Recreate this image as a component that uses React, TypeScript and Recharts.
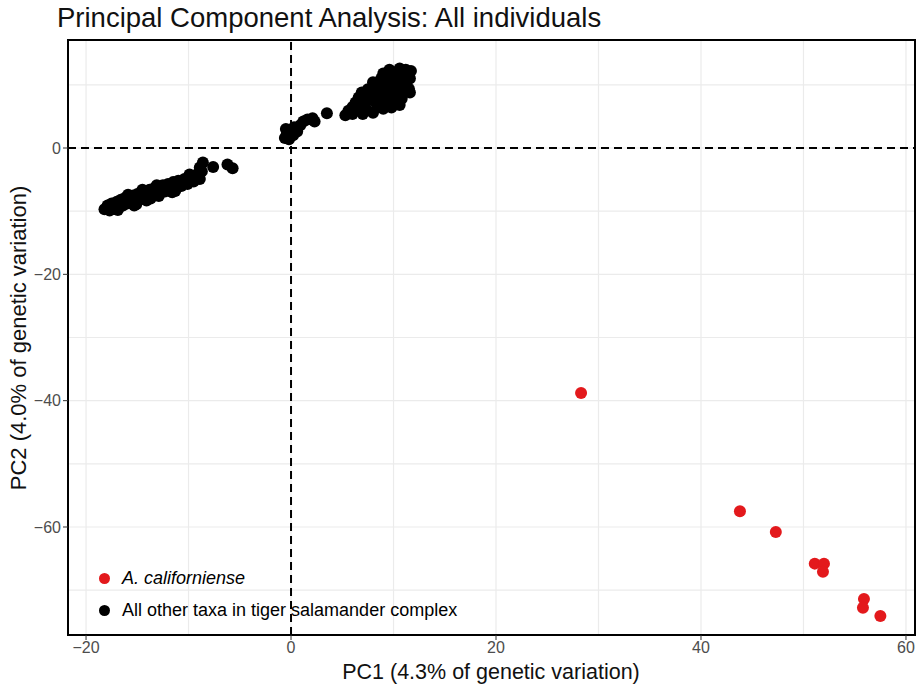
import {
  ScatterChart,
  Scatter,
  XAxis,
  YAxis,
  CartesianGrid,
  ReferenceLine,
  ReferenceArea,
} from 'recharts';

// PC1 / PC2 scores
const californiense = [
  { x: 28.3, y: -38.8 },
  { x: 43.8, y: -57.5 },
  { x: 47.3, y: -60.8 },
  { x: 51.1, y: -65.8 },
  { x: 52.0, y: -65.8 },
  { x: 51.9, y: -67.1 },
  { x: 55.9, y: -71.4 },
  { x: 55.8, y: -72.8 },
  { x: 57.5, y: -74.1 },
];

const otherTaxa = [
  // lower-left band
  { x: -18.2, y: -9.7 }, { x: -17.9, y: -9.1 }, { x: -17.7, y: -9.9 }, { x: -17.5, y: -8.8 },
  { x: -17.3, y: -9.6 }, { x: -17.0, y: -8.5 }, { x: -16.8, y: -9.4 }, { x: -16.6, y: -8.2 },
  { x: -16.4, y: -9.1 }, { x: -16.2, y: -7.9 }, { x: -16.0, y: -8.8 }, { x: -15.8, y: -7.7 },
  { x: -15.6, y: -8.6 }, { x: -15.4, y: -7.5 }, { x: -15.2, y: -8.4 }, { x: -15.0, y: -7.3 },
  { x: -14.8, y: -8.2 }, { x: -14.6, y: -7.0 }, { x: -14.4, y: -7.9 }, { x: -14.2, y: -6.8 },
  { x: -14.0, y: -7.7 }, { x: -13.8, y: -6.6 }, { x: -13.6, y: -7.5 }, { x: -13.4, y: -6.4 },
  { x: -13.2, y: -7.3 }, { x: -13.0, y: -6.2 }, { x: -12.8, y: -7.1 }, { x: -12.5, y: -5.9 },
  { x: -12.3, y: -6.9 }, { x: -12.0, y: -5.7 }, { x: -11.8, y: -6.7 }, { x: -11.5, y: -5.4 },
  { x: -11.3, y: -6.8 }, { x: -11.0, y: -5.2 }, { x: -10.7, y: -6.0 }, { x: -10.4, y: -4.9 },
  { x: -10.1, y: -5.7 }, { x: -9.8, y: -4.6 }, { x: -9.5, y: -5.3 }, { x: -9.2, y: -4.2 },
  { x: -8.9, y: -4.9 }, { x: -8.7, y: -3.7 }, { x: -8.9, y: -3.1 }, { x: -8.6, y: -2.3 },
  { x: -7.6, y: -3.0 }, { x: -6.2, y: -2.6 }, { x: -5.7, y: -3.2 }, { x: -16.9, y: -9.8 },
  { x: -14.1, y: -8.3 }, { x: -15.1, y: -8.9 }, { x: -12.9, y: -7.6 }, { x: -17.6, y: -9.3 },
  { x: -16.5, y: -8.7 }, { x: -13.9, y: -7.1 }, { x: -12.1, y: -6.3 }, { x: -10.3, y: -5.3 },
  { x: -15.9, y: -7.4 }, { x: -14.5, y: -6.6 }, { x: -13.1, y: -5.9 }, { x: -15.3, y: -9.1 },
  { x: -13.7, y: -8.0 }, { x: -11.6, y: -7.0 }, { x: -9.9, y: -4.2 },
  // near origin
  { x: -0.6, y: 1.6 }, { x: -0.4, y: 2.3 }, { x: -0.2, y: 1.4 }, { x: 0.0, y: 2.8 },
  { x: 0.2, y: 2.0 }, { x: -0.5, y: 3.0 }, { x: 0.3, y: 3.3 }, { x: 0.6, y: 2.6 },
  { x: 0.9, y: 3.6 }, { x: 1.2, y: 4.2 }, { x: 1.6, y: 4.5 }, { x: 2.1, y: 4.7 },
  { x: 2.3, y: 4.2 }, { x: 3.5, y: 5.5 },
  // upper-right cluster
  { x: 5.3, y: 5.2 }, { x: 5.6, y: 5.9 }, { x: 6.0, y: 6.5 }, { x: 6.3, y: 7.2 },
  { x: 6.6, y: 8.0 }, { x: 6.9, y: 8.8 }, { x: 7.0, y: 5.4 }, { x: 7.4, y: 6.0 },
  { x: 7.2, y: 7.0 }, { x: 7.6, y: 7.6 }, { x: 7.8, y: 8.6 }, { x: 7.5, y: 9.3 },
  { x: 8.0, y: 5.6 }, { x: 8.4, y: 6.4 }, { x: 8.2, y: 7.4 }, { x: 8.6, y: 8.2 },
  { x: 8.4, y: 9.4 }, { x: 8.8, y: 10.0 }, { x: 9.0, y: 6.2 }, { x: 9.2, y: 7.0 },
  { x: 9.0, y: 8.0 }, { x: 9.4, y: 8.8 }, { x: 9.2, y: 9.8 }, { x: 9.6, y: 10.6 },
  { x: 9.4, y: 11.4 }, { x: 9.6, y: 12.4 }, { x: 9.8, y: 6.4 }, { x: 10.0, y: 7.4 },
  { x: 10.2, y: 8.4 }, { x: 10.0, y: 9.4 }, { x: 10.4, y: 10.2 }, { x: 10.2, y: 11.0 },
  { x: 10.4, y: 12.0 }, { x: 10.6, y: 12.6 }, { x: 10.6, y: 6.8 }, { x: 10.8, y: 7.8 },
  { x: 11.0, y: 8.8 }, { x: 10.8, y: 9.8 }, { x: 11.2, y: 10.6 }, { x: 11.0, y: 11.4 },
  { x: 11.2, y: 12.4 }, { x: 11.7, y: 12.2 }, { x: 11.6, y: 11.0 }, { x: 11.5, y: 9.4 },
  { x: 11.6, y: 8.8 }, { x: 8.0, y: 10.4 }, { x: 8.8, y: 11.0 }, { x: 9.0, y: 11.8 },
  { x: 6.4, y: 6.4 }, { x: 6.0, y: 5.4 },
];

const xTicks = [-20, 0, 20, 40, 60];
const yTicks = [-60, -40, -20, 0];
const xGrid = [-20, -10, 0, 10, 20, 30, 40, 50, 60];
const yGrid = [10, 0, -10, -20, -30, -40, -50, -60, -70];

const X_DOMAIN: [number, number] = [-21.76, 60.88];
const Y_DOMAIN: [number, number] = [-77.1, 17.1];

const RED = '#e3191c';
const FONT = '"Liberation Sans", Arial, sans-serif';
const fmt = (v: number) => (v < 0 ? '\u2212' + Math.abs(v) : String(v));

const dot = (color: string) => (p: any) => (
  <circle cx={p.cx} cy={p.cy} r={6} fill={color} />
);

const LegendBox = () => (
  <div style={{ position: 'absolute', left: 99, top: 562, fontFamily: FONT, fontSize: 18, color: '#000' }}>
    <div style={{ display: 'flex', alignItems: 'center', height: 32 }}>
      <span style={{ width: 11, height: 11, borderRadius: '50%', background: RED, marginRight: 12 }} />
      <i>A. californiense</i>
    </div>
    <div style={{ display: 'flex', alignItems: 'center', height: 32 }}>
      <span style={{ width: 11, height: 11, borderRadius: '50%', background: '#000', marginRight: 12 }} />
      All other taxa in tiger salamander complex
    </div>
  </div>
);

export default function App() {
  return (
    <div style={{ position: 'absolute', left: 0, top: 0, width: 918, height: 697, background: '#fff' }}>
      <div style={{ position: 'absolute', left: 57, top: 2, fontSize: 27.5, fontFamily: FONT, color: '#111' }}>
        Principal Component Analysis: All individuals
      </div>
      <ScatterChart width={918} height={697} margin={{ top: 40, right: 3, bottom: 0, left: 0 }}>
        <CartesianGrid stroke="#ebebeb" strokeWidth={1.2} verticalValues={xGrid} horizontalValues={yGrid} />
        <XAxis
          type="number"
          dataKey="x"
          domain={X_DOMAIN}
          ticks={xTicks}
          allowDataOverflow
          height={62}
          axisLine={false}
          tickLine={{ stroke: '#333' }}
          tickSize={5}
          tickFormatter={fmt}
          tick={{ fill: '#4d4d4d', fontSize: 16, fontFamily: FONT }}
        />
        <YAxis
          type="number"
          dataKey="y"
          domain={Y_DOMAIN}
          ticks={yTicks}
          allowDataOverflow
          width={68}
          axisLine={false}
          tickLine={{ stroke: '#333' }}
          tickSize={5}
          tickFormatter={fmt}
          tick={{ fill: '#4d4d4d', fontSize: 16, fontFamily: FONT }}
        />
        <ReferenceLine x={0} stroke="#000" strokeWidth={2} strokeDasharray="8 5" />
        <ReferenceLine y={0} stroke="#000" strokeWidth={2} strokeDasharray="8 5" />
        <Scatter name="All other taxa in tiger salamander complex" data={otherTaxa} fill="#000" shape={dot('#000')} isAnimationActive={false} />
        <Scatter name="A. californiense" data={californiense} fill={RED} shape={dot(RED)} isAnimationActive={false} />
        <ReferenceArea
          x1={X_DOMAIN[0]}
          x2={X_DOMAIN[1]}
          y1={Y_DOMAIN[0]}
          y2={Y_DOMAIN[1]}
          fill="none"
          fillOpacity={0}
          stroke="#000"
          strokeWidth={2}
        />
      </ScatterChart>
      <LegendBox />
      <div
        style={{
          position: 'absolute', left: 0, width: 918, textAlign: 'center', top: 660, paddingLeft: 64,
          boxSizing: 'border-box', fontSize: 21.5, fontFamily: FONT, color: '#111',
        }}
      >
        PC1 (4.3% of genetic variation)
      </div>
      <div style={{ position: 'absolute', left: 19, top: 338, width: 0, height: 0 }}>
        <div
          style={{
            position: 'absolute', left: 0, top: 0, transform: 'translate(-50%, -50%) rotate(-90deg)',
            whiteSpace: 'nowrap', fontSize: 22, fontFamily: FONT, color: '#111',
          }}
        >
          PC2 (4.0% of genetic variation)
        </div>
      </div>
    </div>
  );
}
